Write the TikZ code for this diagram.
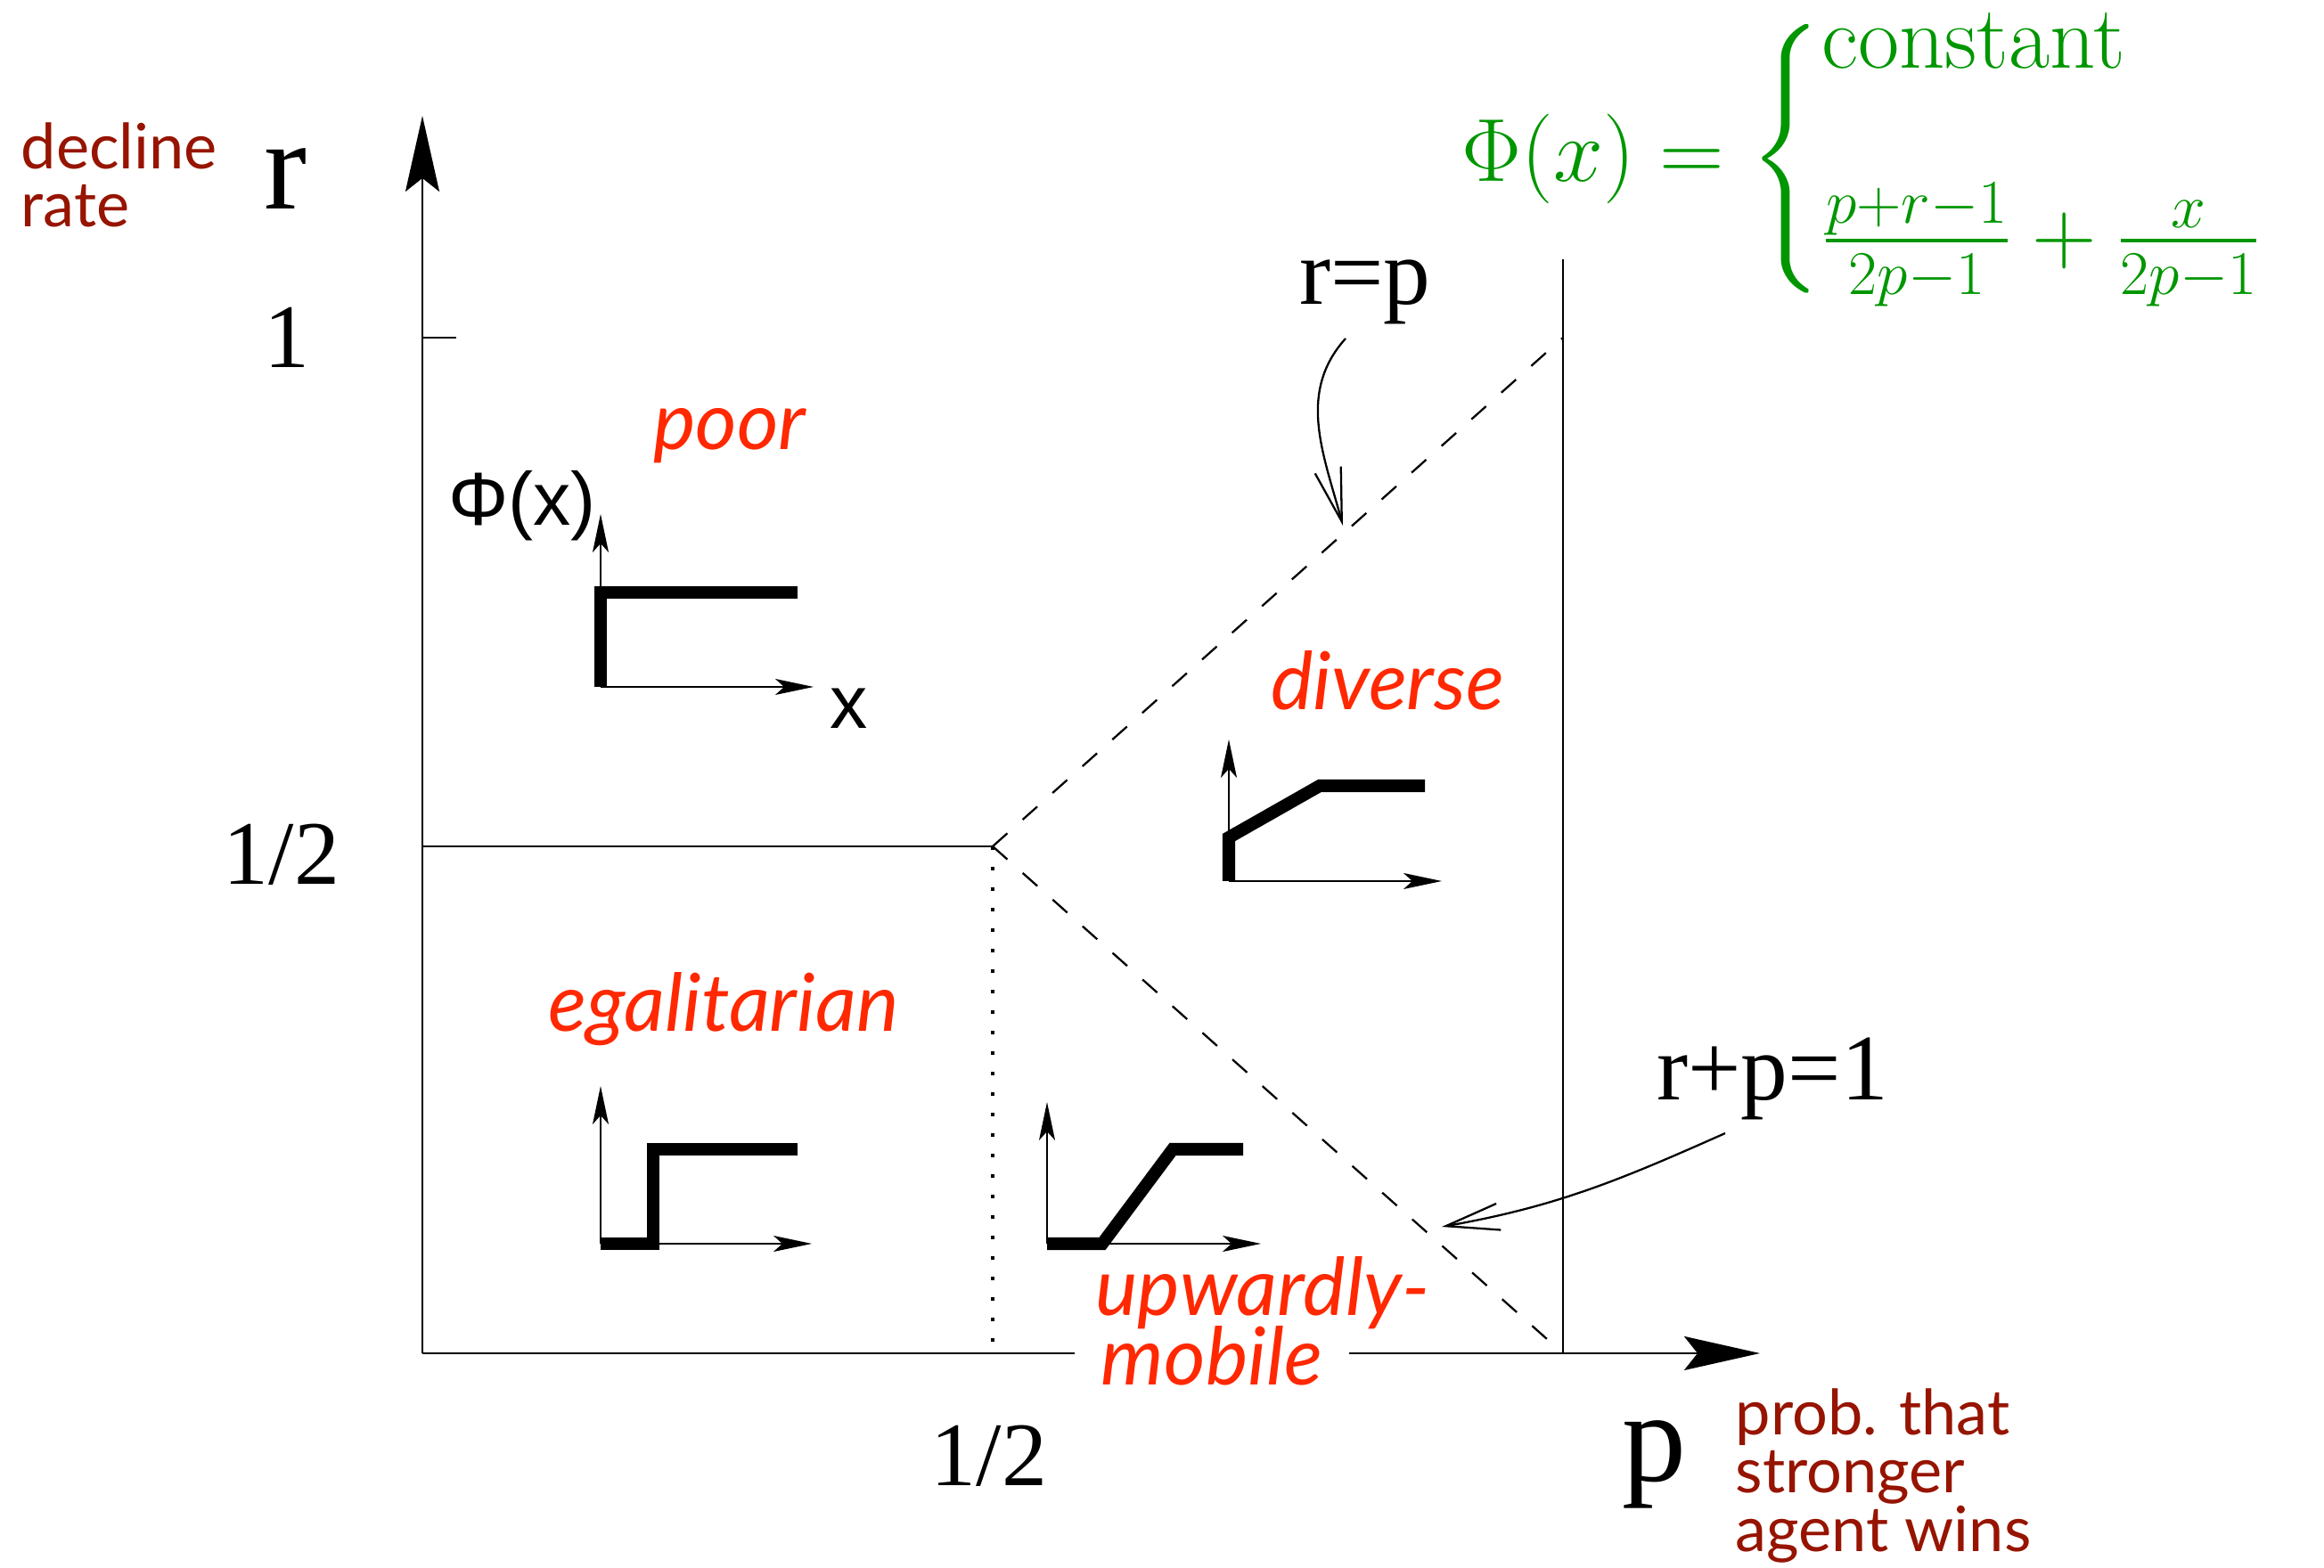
\documentclass[tikz,border=0pt]{standalone}
\usepackage{amsmath}
\usepackage{fontspec}
\usetikzlibrary{arrows.meta, positioning}

\newfontfamily\gillfont{Lato}
\newfontfamily\timesfont{Liberation Serif}
\newfontfamily\arialfont{Liberation Sans}
\DeclareMathSizes{24.88}{24.88}{17.28}{12}

\definecolor{regionred}{RGB}{255,40,0}
\definecolor{axisred}{RGB}{150,20,0}
\definecolor{phigreen}{RGB}{0,150,0}

\begin{document}
\begin{tikzpicture}[
    mainaxis/.style={line width=0.8pt, -{Stealth[length=0.85cm, width=0.38cm, inset=0.15cm]}},
    miniaxis/.style={line width=0.45pt, -{Stealth[length=0.43cm, width=0.18cm, inset=0.1cm]}},
    philine/.style={line width=4pt},
    border/.style={line width=0.65pt},
    note/.style={line width=0.65pt, -{Straight Barb[length=0.6cm, width=0.3cm]}},
    region/.style={text=regionred, font=\gillfont\itshape\fontsize{25.5}{28}\selectfont, inner sep=0pt},
    caption/.style={text=axisred, font=\gillfont\fontsize{20}{18.6}\selectfont, align=left, inner sep=0pt},
    ticknum/.style={font=\timesfont\fontsize{29}{32}\selectfont, inner sep=0pt},
    axisvar/.style={font=\timesfont\fontsize{41}{48}\selectfont, inner sep=0pt},
    lineeq/.style={font=\timesfont\fontsize{30}{36}\selectfont, inner sep=0pt},
    mini/.style={font=\arialfont\fontsize{24}{28}\selectfont, inner sep=0pt}
]
    \useasboundingbox (0,0) rectangle (26.08,17.60);

    % axes
    \coordinate (O) at (4.74,2.41);
    \coordinate (rtop) at (4.74,16.30);
    \coordinate (pend) at (19.75,2.41);
    \draw[mainaxis] (O) -- (rtop);
    \draw[mainaxis] (O) -- (pend);

    % phase boundaries
    \coordinate (half) at (11.14,8.10);
    \coordinate (rhalf) at (4.74,8.10);
    \coordinate (phalf) at (11.14,2.41);
    \coordinate (rone) at (4.74,13.81);
    \coordinate (diag) at (17.54,13.81);
    \coordinate (pone) at (17.54,2.41);
    \coordinate (wall) at (17.54,14.69);
    \draw[border] (rone) -- ++(0.38,0);
    \draw[border] (rhalf) -- (half);
    \draw[line width=1.2pt, dash pattern=on 0.04cm off 0.19cm] (half) -- (phalf);
    \draw[border, dash pattern=on 0.22cm off 0.23cm] (half) -- (diag);
    \draw[border, dash pattern=on 0.22cm off 0.23cm] (half) -- (pone);
    \draw[border] (wall) -- (pone);

    % axis labels
    \node[axisvar, anchor=base] (r) at (3.20,15.25) {r};
    \node[ticknum, anchor=base] (one) at (3.22,13.47) {1};
    \node[ticknum, anchor=base] (rhalflabel) at (3.16,7.67) {1/2};
    \node[ticknum, anchor=base] (phalflabel) at (11.10,0.92) {1/2};
    \node[axisvar, anchor=base] (p) at (18.57,0.97) {p};
    \node[caption, anchor=north west] (decline) at (0.23,16.23) {decline\\rate};
    \node[caption, anchor=north west] (prob) at (19.47,2.02) {prob. that\\stronger\\agent wins};

    % boundary names
    \node[lineeq, anchor=base] (rp) at (15.32,14.18) {r=p};
    \node[lineeq, anchor=base] (rpone) at (19.89,5.25) {r+p=1};
    \coordinate (rpfrom) at (15.10,13.80);
    \coordinate (rpto) at (15.07,11.70);
    \coordinate (rponefrom) at (19.36,4.88);
    \coordinate (rponeto) at (16.18,3.83);
    \draw[note] (rpfrom) to[out=228, in=105] (rpto);
    \draw[note] (rponefrom) to[out=204, in=10] (rponeto);

    % regions
    \node[region, anchor=base] (poor) at (8.19,12.55) {poor};
    \node[region, anchor=base] (diverse) at (15.57,9.63) {diverse};
    \node[region, anchor=base] (egal) at (8.12,6.02) {egalitarian};
    \node[region, anchor=base, fill=white, inner xsep=0.3cm, inner ysep=0pt] (mobile) at (13.60,2.05) {mobile};
    \node[region, anchor=base] (upward) at (14.17,2.83) {upwardly-};

    % poor
    \coordinate (o1) at (6.74,9.89);
    \draw[miniaxis] (o1) -- (6.74,11.83);
    \draw[miniaxis] (o1) -- (9.13,9.89);
    \draw[philine] (o1) -- (6.74,10.95) -- (8.95,10.95);
    \node[mini] (phi) at (5.86,11.92) {Φ(x)};
    \node[mini] (x) at (9.53,9.65) {x};

    % diverse
    \coordinate (o2) at (13.79,7.71);
    \draw[miniaxis] (o2) -- (13.79,9.30);
    \draw[miniaxis] (o2) -- (16.18,7.71);
    \draw[philine] (o2) -- (13.79,8.20) -- (14.81,8.78) -- (15.99,8.78);

    % egalitarian
    \coordinate (o3) at (6.74,3.64);
    \draw[miniaxis] (o3) -- (6.74,5.41);
    \draw[miniaxis] (o3) -- (9.11,3.64);
    \draw[philine] (o3) -- (7.33,3.64) -- (7.33,4.70) -- (8.95,4.70);

    % upwardly-mobile
    \coordinate (o4) at (11.75,3.64);
    \draw[miniaxis] (o4) -- (11.75,5.23);
    \draw[miniaxis] (o4) -- (14.15,3.64);
    \draw[philine] (o4) -- (12.37,3.64) -- (13.16,4.70) -- (13.95,4.70);

    % wealth function
    \node[anchor=west, text=phigreen, inner sep=0pt, scale=1.15, transform shape,
          font=\fontsize{24.88}{19}\selectfont] (phidef) at (16.40,15.82)
        {\delimitershortfall=10pt \delimiterfactor=880
         $\Phi(x) = \begin{cases} \text{constant}\\[25pt] \frac{p+r-1}{2p-1} + \frac{x}{2p-1} \end{cases}$};
\end{tikzpicture}
\end{document}
